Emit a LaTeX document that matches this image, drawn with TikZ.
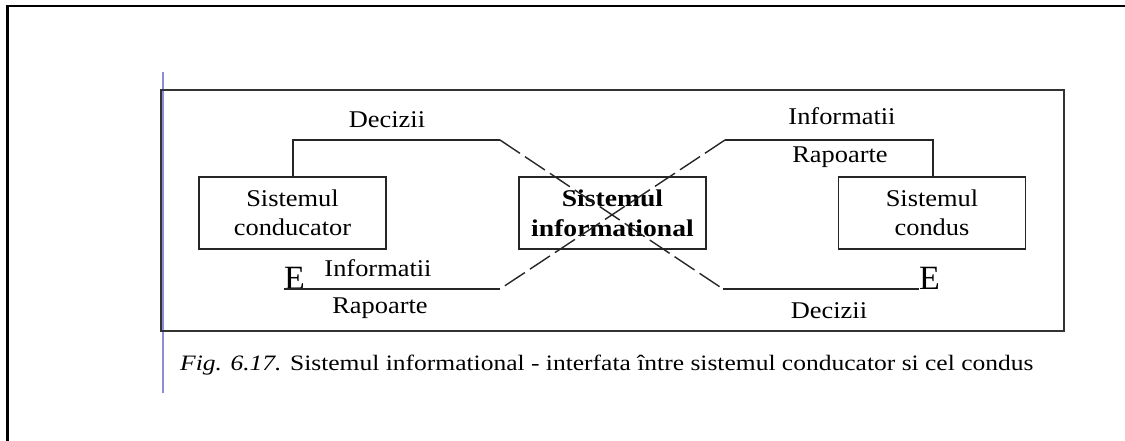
\documentclass[tikz,border=0pt]{standalone}
\usepackage{fontspec}
\setmainfont{Liberation Serif}
\newfontfamily\lblfont[FakeStretch=1.1]{Liberation Serif}
\newfontfamily\boldlblfont[FakeStretch=1.15]{Liberation Serif}
\newfontfamily\capfont[FakeStretch=1.16]{Liberation Serif}
\begin{document}
\begin{tikzpicture}[x=1pt,y=-1pt,
  frameline/.style={line width=2.2pt,draw=black!80},
  flowline/.style={line width=1.4pt,draw=black!85},
  crossline/.style={flowline,dash pattern=on 24pt off 6pt},
  sysbox/.style={draw=black!85,line width=1.4pt,minimum width=187pt,minimum height=72pt,
    inner sep=0pt,align=center,font=\lblfont\fontsize{24}{29}\selectfont},
  lbl/.style={inner sep=0pt,anchor=base,font=\lblfont\fontsize{24}{28}\selectfont},
  emark/.style={inner sep=0pt,anchor=base west,font=\fontsize{34}{36}\selectfont}]
\useasboundingbox (0,0) rectangle (1125,441);
% page edges
\draw[line width=2.6pt] (7.5,445) -- (7.5,6) -- (1130,6);
% margin guide
\draw[line width=1.4pt,color={rgb,255:red,140;green,140;blue,215}] (163,72) -- (163,393);
% figure frame
\draw[frameline] (161,90) rectangle (1064,331);
% the three systems
\node[sysbox] (cond) at (292.5,213) {Sistemul\\conducator};
\node[sysbox,font=\boldlblfont\bfseries\fontsize{24}{30}\selectfont] (info) at (612.5,213) {Sistemul\\informational};
\node[sysbox] (condus) at (932,213) {Sistemul\\condus};
% bend points of the flows
\coordinate (tl) at (500,140);
\coordinate (tr) at (725,140);
\coordinate (bl) at (500,289);
\coordinate (br) at (723,289);
% end marks
\node[emark] (eL) at (284,289) {E};
\node[emark] (eR) at (919,289) {E};
% decisions: leading system -> led system
\draw[flowline] (cond.north -| 293,0) |- (tl);
\draw[crossline] (tl) -- (br);
\draw[flowline] (br) -- (eR.base west);
% information: led system -> leading system
\draw[flowline] (condus.north -| 933,0) |- (tr);
\draw[crossline] (tr) -- (bl);
\draw[flowline] (bl) -- (eL.base west);
% flow labels
\node[lbl] (d1) at (387,128) {Decizii};
\node[lbl] (i1) at (842,125) {Informatii};
\node[lbl] (r1) at (840,163) {Rapoarte};
\node[lbl] (i2) at (378,276) {Informatii};
\node[lbl] (r2) at (380,313) {Rapoarte};
\node[lbl] (d2) at (829,318) {Decizii};
% caption
\node[inner sep=0pt,anchor=base west,font=\capfont\fontsize{22}{24}\selectfont] (cap) at (180,370)
  {\textit{Fig. 6.17.} Sistemul informational - interfata între sistemul conducator si cel condus};
\end{tikzpicture}
\end{document}
